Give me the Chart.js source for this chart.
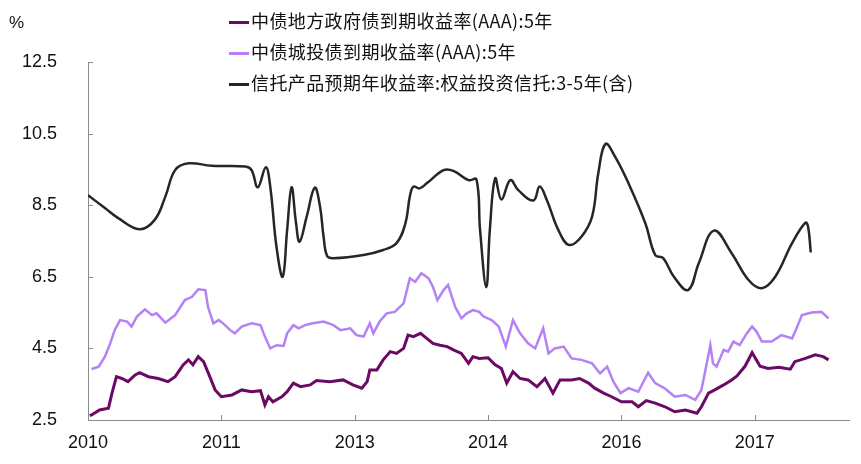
<!DOCTYPE html>
<html><head><meta charset="utf-8">
<script src="https://cdn.jsdelivr.net/npm/chart.js@4.4.1/dist/chart.umd.min.js"></script>
<style>
html,body{margin:0;padding:0;background:#fff;}
#wrap{position:relative;width:861px;height:464px;}
canvas{position:absolute;left:0;top:0;}
.unit{position:absolute;left:9px;top:13px;font:17px "Liberation Sans",Arial,sans-serif;color:#111;}
.leg{position:absolute;left:229px;font:18px "Noto Sans CJK SC",sans-serif;letter-spacing:0.4px;color:#111;white-space:nowrap;line-height:22px;}
.leg i{display:inline-block;width:20px;height:3px;vertical-align:middle;margin-right:2px;position:relative;top:-1px;}
</style></head><body>
<div id="wrap"><canvas id="c" width="861" height="464"></canvas>
<div class="unit">%</div>
<div id="legend"></div>
</div>
<script>
const seriesNames = ['中债地方政府债到期收益率(AAA):5年','中债城投债到期收益率(AAA):5年','信托产品预期年收益率:权益投资信托:3-5年(含)'];
const seriesColors = ['#6b0a64','#b482f4','#262626'];
const xTickValues = [2010, 2011.5, 2013, 2014.5, 2016, 2017.5];
const xTickLabels = ['2010','2011','2013','2014','2016','2017'];
const yTickValues = [2.5, 4.5, 6.5, 8.5, 10.5, 12.5];

const govDates = [2010.02,2010.04,2010.13,2010.23,2010.27,2010.32,2010.38,2010.45,2010.53,2010.58,2010.68,2010.79,2010.90,2010.98,2011.07,2011.13,2011.18,2011.24,2011.30,2011.37,2011.43,2011.50,2011.62,2011.73,2011.84,2011.94,2011.99,2012.03,2012.08,2012.18,2012.24,2012.31,2012.39,2012.50,2012.57,2012.72,2012.87,2012.98,2013.08,2013.14,2013.17,2013.25,2013.32,2013.40,2013.47,2013.55,2013.60,2013.66,2013.74,2013.81,2013.88,2013.96,2014.04,2014.11,2014.20,2014.28,2014.33,2014.40,2014.50,2014.58,2014.65,2014.71,2014.78,2014.86,2014.95,2015.05,2015.14,2015.23,2015.31,2015.44,2015.53,2015.63,2015.70,2015.80,2015.89,2016.00,2016.12,2016.19,2016.28,2016.38,2016.49,2016.60,2016.72,2016.85,2016.90,2016.98,2017.05,2017.15,2017.24,2017.30,2017.39,2017.47,2017.56,2017.65,2017.77,2017.90,2017.95,2018.07,2018.18,2018.27,2018.33];
const govValues = [2.62,2.64,2.78,2.83,3.25,3.71,3.66,3.57,3.76,3.82,3.71,3.66,3.57,3.71,4.04,4.18,4.04,4.27,4.13,3.71,3.34,3.15,3.20,3.34,3.29,3.32,2.92,3.15,3.01,3.15,3.29,3.53,3.43,3.48,3.60,3.57,3.62,3.48,3.39,3.57,3.90,3.90,4.18,4.41,4.36,4.50,4.87,4.83,4.92,4.78,4.64,4.59,4.55,4.46,4.36,4.08,4.27,4.22,4.24,4.04,3.94,3.53,3.85,3.66,3.62,3.43,3.66,3.25,3.62,3.62,3.66,3.53,3.39,3.25,3.15,3.01,3.01,2.87,3.04,2.97,2.87,2.73,2.78,2.69,2.87,3.25,3.34,3.48,3.62,3.73,4.00,4.38,4.00,3.94,3.97,3.92,4.13,4.22,4.32,4.27,4.18];

const cityDates = [2010.04,2010.06,2010.12,2010.19,2010.25,2010.30,2010.36,2010.44,2010.49,2010.55,2010.64,2010.72,2010.77,2010.87,2010.98,2011.09,2011.17,2011.24,2011.32,2011.35,2011.41,2011.47,2011.52,2011.60,2011.65,2011.73,2011.84,2011.94,2011.99,2012.05,2012.12,2012.20,2012.24,2012.31,2012.37,2012.44,2012.53,2012.65,2012.76,2012.84,2012.95,2013.02,2013.10,2013.17,2013.21,2013.28,2013.36,2013.45,2013.55,2013.62,2013.68,2013.75,2013.83,2013.88,2013.93,2014.00,2014.05,2014.13,2014.20,2014.26,2014.33,2014.40,2014.45,2014.54,2014.62,2014.70,2014.78,2014.86,2014.95,2015.03,2015.12,2015.18,2015.25,2015.35,2015.44,2015.55,2015.67,2015.76,2015.84,2015.91,2015.99,2016.08,2016.19,2016.30,2016.38,2016.49,2016.60,2016.72,2016.83,2016.90,2016.96,2017.00,2017.03,2017.07,2017.15,2017.20,2017.26,2017.33,2017.41,2017.47,2017.52,2017.58,2017.69,2017.80,2017.92,2017.97,2018.03,2018.14,2018.25,2018.33];
const cityValues = [3.92,3.94,3.99,4.27,4.64,5.01,5.29,5.25,5.11,5.39,5.59,5.43,5.48,5.22,5.43,5.85,5.94,6.15,6.13,5.66,5.20,5.29,5.20,5.01,4.92,5.11,5.20,5.15,4.83,4.50,4.59,4.57,4.92,5.15,5.06,5.15,5.20,5.25,5.15,5.01,5.06,4.87,4.83,5.20,4.92,5.25,5.48,5.52,5.76,6.46,6.36,6.60,6.46,6.22,5.85,6.13,6.27,5.66,5.34,5.48,5.57,5.52,5.39,5.29,5.11,4.55,5.29,4.92,4.64,4.50,5.06,4.36,4.50,4.55,4.22,4.18,4.08,3.80,3.99,3.57,3.25,3.39,3.29,3.82,3.53,3.38,3.15,3.20,3.06,3.34,4.08,4.59,4.08,3.99,4.46,4.41,4.69,4.59,4.92,5.11,4.97,4.69,4.69,4.87,4.78,5.06,5.43,5.50,5.52,5.34];

const trustDates = [2010.00,2010.19,2010.34,2010.58,2010.75,2010.87,2010.98,2011.13,2011.39,2011.77,2011.84,2011.91,2012.00,2012.05,2012.12,2012.19,2012.24,2012.29,2012.34,2012.38,2012.46,2012.55,2012.61,2012.65,2012.69,2012.76,2013.10,2013.32,2013.47,2013.57,2013.62,2013.66,2013.73,2013.81,2014.00,2014.11,2014.28,2014.37,2014.41,2014.48,2014.52,2014.58,2014.65,2014.75,2014.84,2015.01,2015.08,2015.16,2015.29,2015.41,2015.55,2015.67,2015.74,2015.82,2015.93,2016.08,2016.27,2016.38,2016.47,2016.59,2016.75,2016.87,2017.04,2017.24,2017.43,2017.58,2017.73,2017.92,2018.07,2018.10,2018.13];
const trustValues = [8.78,8.42,8.14,7.83,8.09,8.74,9.48,9.67,9.60,9.58,9.48,9.00,9.56,9.02,7.34,6.50,7.81,9.00,8.00,7.48,8.18,8.99,8.46,7.62,7.08,7.02,7.11,7.25,7.44,7.99,8.74,9.02,8.97,9.11,9.48,9.46,9.20,9.22,7.81,6.21,7.81,9.25,8.66,9.20,8.92,8.63,9.02,8.65,7.81,7.39,7.62,8.18,9.39,10.21,9.85,9.11,7.99,7.11,7.02,6.50,6.13,6.88,7.79,7.16,6.41,6.18,6.50,7.44,8.01,7.90,7.18];

function pts(xs, ys){ return xs.map((x,i)=>({x:x, y:ys[i]})); }

// legend (HTML text)
const legTops = [9, 40, 71];
const legEl = document.getElementById('legend');
seriesNames.forEach((n,i)=>{
  const d = document.createElement('div');
  d.className='leg'; d.style.top = legTops[i]+'px';
  d.innerHTML = '<i style="background:'+seriesColors[i]+'"></i>'+n;
  legEl.appendChild(d);
});

const axisColor = '#8c8c8c';
const innerTicks = {
  id:'innerTicks',
  afterDraw(chart){
    const ctx = chart.ctx, xs = chart.scales.x, ys = chart.scales.y;
    ctx.save(); ctx.strokeStyle = axisColor; ctx.lineWidth = 1;
    ctx.beginPath();
    yTickValues.forEach(v=>{ const y = Math.round(ys.getPixelForValue(v))+0.5; ctx.moveTo(xs.left, y); ctx.lineTo(xs.left+5, y); });
    xTickValues.forEach(v=>{ const x = Math.round(xs.getPixelForValue(v))+0.5; ctx.moveTo(x, ys.bottom); ctx.lineTo(x, ys.bottom-5); });
    ctx.stroke(); ctx.restore();
  }
};

new Chart(document.getElementById('c'), {
  type:'line',
  data:{ datasets:[
    {label:seriesNames[0], data:pts(govDates,govValues), borderColor:seriesColors[0], borderWidth:3, pointRadius:0, tension:0, fill:false},
    {label:seriesNames[1], data:pts(cityDates,cityValues), borderColor:seriesColors[1], borderWidth:2.5, pointRadius:0, tension:0, fill:false},
    {label:seriesNames[2], data:pts(trustDates,trustValues), borderColor:seriesColors[2], borderWidth:2.5, pointRadius:0, tension:0.4, fill:false}
  ]},
  options:{
    responsive:false, animation:false, devicePixelRatio:1,
    layout:{padding:{top:62, right:12, left:0, bottom:0}},
    plugins:{legend:{display:false}, tooltip:{enabled:false}},
    scales:{
      x:{ type:'linear', min:2010, max:2018.56,
        afterBuildTicks(s){ s.ticks = xTickValues.map(v=>({value:v})); },
        afterFit(s){ s.height = 44; },
        grid:{display:false}, border:{display:true, color:axisColor, width:1},
        ticks:{ autoSkip:false, maxRotation:0, padding:4, color:'#111', font:{family:'"Liberation Sans", Arial, sans-serif', size:18},
          callback(v, i){ return xTickLabels[i]; } } },
      y:{ min:2.5, max:12.5,
        afterBuildTicks(s){ s.ticks = yTickValues.map(v=>({value:v})); },
        afterFit(s){ s.width = 88; },
        grid:{display:false}, border:{display:true, color:axisColor, width:1},
        ticks:{ padding:23, color:'#111', font:{family:'"Liberation Sans", Arial, sans-serif', size:18},
          callback(v){ return Number(v).toFixed(1); } } }
    }
  },
  plugins:[innerTicks]
});
</script>
</body></html>
